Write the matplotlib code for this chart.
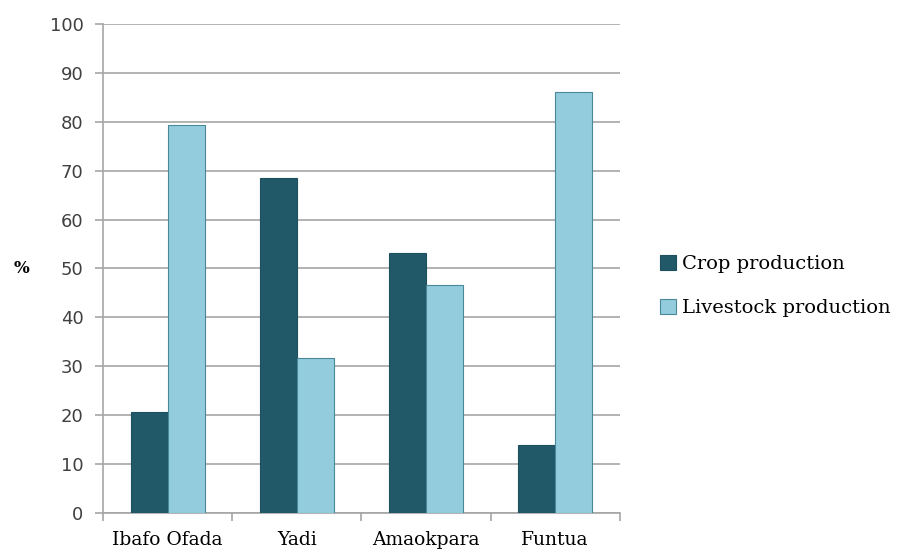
import numpy as np
import matplotlib.pyplot as plt

sites = ["Ibafo Ofada", "Yadi", "Amaokpara", "Funtua"]
crop = [20.6, 68.4, 53.2, 14.0]
livestock = [79.4, 31.6, 46.6, 86.0]

crop_color = "#215968"
live_color = "#93cddd"
grid_color = "#a6a6a6"

fig = plt.figure(figsize=(9.05, 5.54), dpi=100)
ax = fig.add_axes([0.1138, 0.074, 0.571, 0.8829])

x = np.arange(len(sites))
w = 0.286
ax.bar(x - w / 2, crop, w, color=crop_color, edgecolor="#1d4f5c", linewidth=0.8,
       label="Crop production", zorder=3)
ax.bar(x + w / 2, livestock, w, color=live_color, edgecolor="#4a8799", linewidth=0.8,
       label="Livestock production", zorder=3)

ax.set_xlim(-0.5, len(sites) - 0.5)
ax.set_ylim(0, 100)
ax.set_yticks(range(0, 101, 10))
ax.yaxis.grid(True, color=grid_color, linewidth=1.2, zorder=0)

# category labels at centres, tick marks on the boundaries
ax.set_xticks(x)
ax.set_xticklabels(sites, family="DejaVu Serif", fontsize=13.5)
ax.tick_params(axis="x", length=0, pad=13)
ax.set_xticks(np.arange(-0.5, len(sites)), minor=True)
ax.tick_params(axis="x", which="minor", length=6, color=grid_color, width=1.2)
ax.tick_params(axis="y", length=6, color=grid_color, width=1.2, labelsize=13,
               labelcolor="#404040", pad=8)

for s in ["top", "right"]:
    ax.spines[s].set_visible(False)
for s in ["left", "bottom"]:
    ax.spines[s].set_color(grid_color)
    ax.spines[s].set_linewidth(1.2)

ax.set_ylabel("%", rotation=0, family="DejaVu Serif", fontweight="bold",
              fontsize=12, va="center", ha="center")
ax.yaxis.set_label_coords(-0.157, 0.5)

ax.legend(loc="center left", bbox_to_anchor=(1.045, 0.464), frameon=False,
          prop={"family": "DejaVu Serif", "size": 14}, handlelength=0.8,
          handleheight=0.8, handletextpad=0.3, labelspacing=1.3)

fig.savefig("out.png", dpi=100)
